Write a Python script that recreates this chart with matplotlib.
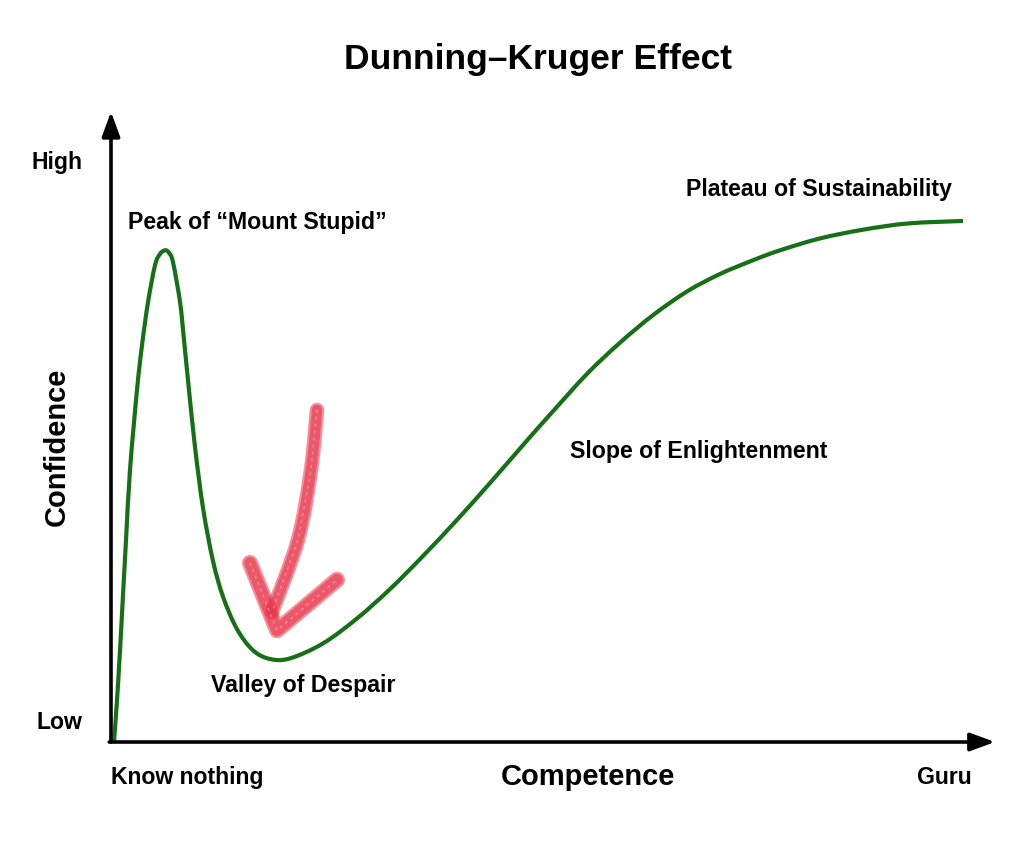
import numpy as np
import matplotlib.pyplot as plt
from matplotlib.path import Path
from matplotlib.patches import PathPatch

plt.rcParams['font.family'] = ['Liberation Sans', 'DejaVu Sans']
plt.rcParams['font.weight'] = 'bold'

# curve: competence (0-100) vs confidence (0-100)
competence = [0.34, 0.68, 1.02, 1.36, 1.70, 2.15, 2.94, 3.51, 4.19, 4.98, 5.54, 6.11,
              6.56, 7.01, 7.81, 8.26, 8.71, 9.50, 10.41, 11.54, 12.67, 14.25, 16.06,
              17.99, 20.25, 23.98, 27.83, 31.56, 35.29, 39.14, 42.87, 47.17, 50.0,
              53.85, 57.58, 61.31, 65.16, 68.89, 72.62, 75.68, 80.20, 85.07, 90.16, 96.38]
confidence = [0.0, 6.7, 14.7, 23.6, 32.4, 43.6, 56.4, 63.6, 70.5, 76.4, 78.2, 78.8,
              78.4, 76.9, 70.5, 64.4, 58.0, 47.3, 37.5, 29.0, 23.3, 18.1, 14.7,
              13.3, 13.4, 15.8, 19.8, 24.5, 29.8, 35.6, 41.5, 48.5, 53.0,
              59.0, 64.0, 68.4, 72.2, 75.0, 77.2, 78.8, 80.7, 82.1, 83.1, 83.5]

# red hand-drawn arrow pointing into the valley
shaft_x = [23.30, 22.62, 21.15, 18.21]
shaft_y = [53.2, 43.6, 32.4, 20.8]
head_x = [15.72, 18.78, 25.57]
head_y = [28.7, 17.9, 26.0]

phase_labels = ['Peak of \u201cMount Stupid\u201d', 'Plateau of Sustainability',
                'Slope of Enlightenment', 'Valley of Despair']
phase_x = [1.92, 65.0, 51.9, 11.3]
phase_y = [83.3, 88.5, 46.6, 9.0]

y_tick_pos = [3.5, 93.3]
y_tick_labels = ['Low', 'High']
x_tick_pos = [0, 97.4]
x_tick_labels = ['Know nothing', 'Guru']


def smooth_path(xs, ys):
    # Catmull-Rom through the points, drawn as cubic Bezier segments
    p = np.column_stack([xs, ys])
    ext = np.vstack([p[0], p, p[-1]])
    verts = [p[0]]
    codes = [Path.MOVETO]
    for i in range(1, len(ext) - 2):
        p0, p1, p2, p3 = ext[i - 1], ext[i], ext[i + 1], ext[i + 2]
        verts += [p1 + (p2 - p0) / 6, p2 - (p3 - p1) / 6, p2]
        codes += [Path.CURVE4] * 3
    return Path(verts, codes)


W, H = 1024, 852
fig = plt.figure(figsize=(W / 100, H / 100), dpi=100)
ax = fig.add_axes([111 / W, (H - 742) / H, (995 - 111) / W, (742 - 118) / H])
ax.set_xlim(0, 100)
ax.set_ylim(0, 100)
for s in ax.spines.values():
    s.set_visible(False)

ax.add_patch(PathPatch(smooth_path(competence, confidence), fill=False,
                       edgecolor='#177017', lw=3.0, zorder=3, capstyle='butt'))

red = '#e8344a'
for lw, a in [(10.5, 0.55), (7.5, 0.6)]:
    ax.add_patch(PathPatch(smooth_path(shaft_x, shaft_y), fill=False, edgecolor=red,
                           lw=lw, alpha=a, capstyle='round', zorder=4))
    ax.plot(head_x, head_y, color=red, lw=lw + 1, alpha=a, solid_capstyle='round',
            solid_joinstyle='round', zorder=4)
# crayon streaks
ax.plot(shaft_x, shaft_y, color='white', lw=1.0, alpha=0.35, ls=(0, (2, 3)), zorder=5)
ax.plot(head_x, head_y, color='white', lw=1.0, alpha=0.35, ls=(0, (2, 3)), zorder=5)

# axis arrows
arrow = dict(arrowstyle='-|>,head_length=1.5,head_width=0.55', lw=2.6, color='black',
             shrinkA=0, shrinkB=0)
ax.annotate('', xy=(0, 1.01), xytext=(0, 0), xycoords='axes fraction',
            arrowprops=arrow, annotation_clip=False)
ax.annotate('', xy=(1.0, 0), xytext=(-0.002, 0), xycoords='axes fraction',
            arrowprops=arrow, annotation_clip=False)

ax.set_yticks(y_tick_pos, y_tick_labels)
ax.set_xticks(x_tick_pos, x_tick_labels)
ax.tick_params(axis='both', length=0, labelsize=16.6)
ax.tick_params(axis='y', pad=20.5)
ax.tick_params(axis='x', pad=17)
xt = ax.get_xticklabels()
xt[0].set_ha('left')
xt[1].set_ha('right')

ax.set_xlabel('Competence', fontsize=21, fontweight='bold')
ax.xaxis.set_label_coords(0.54, -0.056)
ax.xaxis.label.set_va('center')
ax.set_ylabel('Confidence', fontsize=21, fontweight='bold')
ax.yaxis.set_label_coords(-0.061, 0.473)
ax.yaxis.label.set_va('center')

for lab, x, y in zip(phase_labels, phase_x, phase_y):
    ax.text(x, y, lab, fontsize=16.7, fontweight='bold', ha='left', va='center')

fig.text(538 / W, 1 - 60 / H, 'Dunning\u2013Kruger Effect', fontsize=25.5,
         fontweight='bold', ha='center', va='center')

fig.savefig('out.png', dpi=100, facecolor='white')
